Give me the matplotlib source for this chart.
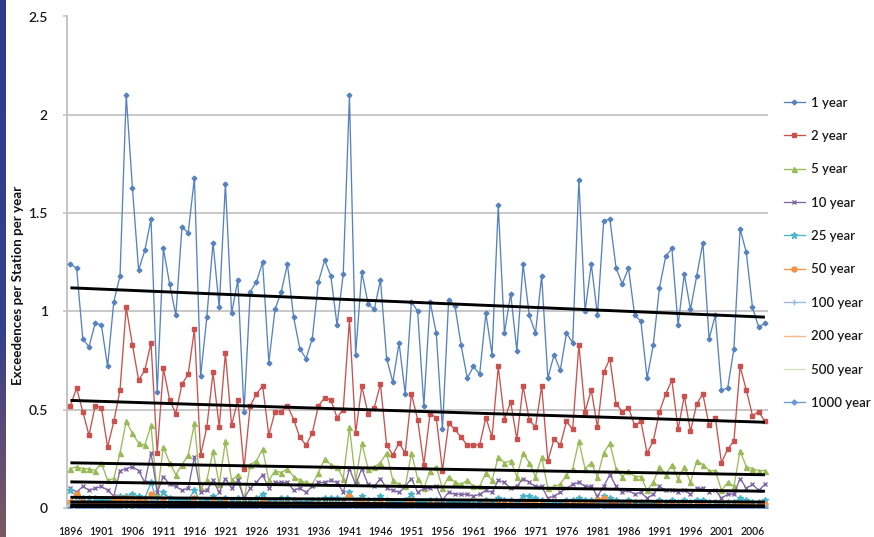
import numpy as np
import matplotlib
matplotlib.use("Agg")
import matplotlib.pyplot as plt
from matplotlib.colors import LinearSegmentedColormap

plt.rcParams['font.family'] = ['Lato', 'DejaVu Sans']

years = list(range(1896, 2009))

one_year = [
    1.24, 1.22, 0.86, 0.82, 0.94, 0.93, 0.72, 1.05, 1.18, 2.10,
    1.63, 1.21, 1.31, 1.47, 0.59, 1.32, 1.14, 0.98, 1.43, 1.40,
    1.68, 0.67, 0.97, 1.35, 1.02, 1.65, 0.99, 1.16, 0.49, 1.10,
    1.15, 1.25, 0.74, 1.01, 1.10, 1.24, 0.97, 0.81, 0.76, 0.86,
    1.15, 1.26, 1.18, 0.93, 1.19, 2.10, 0.78, 1.20, 1.04, 1.01,
    1.16, 0.76, 0.64, 0.84, 0.58, 1.05, 1.00, 0.52, 1.05, 0.89,
    0.40, 1.06, 1.03, 0.83, 0.66, 0.72, 0.68, 0.99, 0.78, 1.54,
    0.89, 1.09, 0.80, 1.24, 0.98, 0.89, 1.18, 0.66, 0.78, 0.70,
    0.89, 0.84, 1.67, 1.00, 1.24, 0.98, 1.46, 1.47, 1.22, 1.14,
    1.22, 0.98, 0.95, 0.66, 0.83, 1.12, 1.28, 1.32, 0.93, 1.19,
    1.01, 1.18, 1.35, 0.86, 0.98, 0.60, 0.61, 0.81, 1.42, 1.30,
    1.02, 0.92, 0.94,
]

two_year = [
    0.52, 0.61, 0.49, 0.37, 0.52, 0.51, 0.31, 0.44, 0.60, 1.02,
    0.83, 0.65, 0.70, 0.84, 0.28, 0.71, 0.55, 0.48, 0.63, 0.68,
    0.91, 0.27, 0.41, 0.69, 0.41, 0.79, 0.42, 0.55, 0.20, 0.52,
    0.58, 0.62, 0.37, 0.49, 0.49, 0.52, 0.45, 0.36, 0.32, 0.38,
    0.52, 0.56, 0.55, 0.46, 0.50, 0.96, 0.38, 0.62, 0.48, 0.51,
    0.63, 0.32, 0.27, 0.33, 0.28, 0.58, 0.45, 0.22, 0.48, 0.46,
    0.19, 0.43, 0.40, 0.36, 0.32, 0.32, 0.32, 0.46, 0.36, 0.72,
    0.45, 0.54, 0.35, 0.62, 0.45, 0.41, 0.62, 0.24, 0.35, 0.32,
    0.44, 0.40, 0.83, 0.49, 0.60, 0.41, 0.69, 0.76, 0.53, 0.49,
    0.51, 0.42, 0.44, 0.28, 0.34, 0.49, 0.58, 0.65, 0.40, 0.57,
    0.39, 0.53, 0.58, 0.42, 0.46, 0.23, 0.30, 0.34, 0.72, 0.60,
    0.47, 0.49, 0.44,
]

five_year = [
    0.20, 0.21, 0.20, 0.20, 0.19, 0.23, 0.14, 0.15, 0.28, 0.44,
    0.38, 0.33, 0.32, 0.42, 0.07, 0.31, 0.23, 0.17, 0.22, 0.27,
    0.43, 0.10, 0.14, 0.29, 0.12, 0.34, 0.14, 0.17, 0.04, 0.22,
    0.24, 0.30, 0.14, 0.19, 0.18, 0.20, 0.16, 0.14, 0.13, 0.12,
    0.18, 0.25, 0.22, 0.21, 0.15, 0.41, 0.14, 0.33, 0.20, 0.21,
    0.23, 0.28, 0.14, 0.12, 0.11, 0.28, 0.15, 0.10, 0.19, 0.21,
    0.10, 0.16, 0.13, 0.12, 0.14, 0.11, 0.11, 0.18, 0.14, 0.26,
    0.23, 0.24, 0.16, 0.28, 0.23, 0.16, 0.26, 0.10, 0.11, 0.12,
    0.17, 0.20, 0.34, 0.20, 0.23, 0.16, 0.28, 0.33, 0.20, 0.16,
    0.19, 0.16, 0.16, 0.09, 0.13, 0.21, 0.17, 0.22, 0.15, 0.21,
    0.13, 0.24, 0.22, 0.19, 0.19, 0.09, 0.13, 0.11, 0.29, 0.21,
    0.20, 0.19, 0.19,
]

ten_year = [
    0.10, 0.08, 0.11, 0.09, 0.10, 0.11, 0.09, 0.06, 0.19, 0.20,
    0.21, 0.19, 0.13, 0.28, 0.08, 0.16, 0.12, 0.11, 0.09, 0.10,
    0.26, 0.08, 0.09, 0.14, 0.08, 0.15, 0.10, 0.14, 0.05, 0.10,
    0.13, 0.17, 0.10, 0.13, 0.13, 0.13, 0.09, 0.10, 0.08, 0.11,
    0.13, 0.13, 0.14, 0.13, 0.08, 0.20, 0.12, 0.20, 0.12, 0.11,
    0.15, 0.10, 0.09, 0.08, 0.11, 0.15, 0.08, 0.10, 0.10, 0.11,
    0.04, 0.08, 0.07, 0.07, 0.07, 0.06, 0.07, 0.09, 0.08, 0.14,
    0.13, 0.10, 0.11, 0.15, 0.13, 0.11, 0.11, 0.05, 0.06, 0.08,
    0.10, 0.12, 0.13, 0.11, 0.11, 0.06, 0.11, 0.17, 0.11, 0.08,
    0.09, 0.07, 0.08, 0.05, 0.07, 0.11, 0.09, 0.09, 0.08, 0.09,
    0.07, 0.10, 0.10, 0.08, 0.09, 0.05, 0.07, 0.07, 0.15, 0.10,
    0.12, 0.09, 0.12,
]

twentyfive_year = [
    0.09, 0.06, 0.05, 0.05, 0.05, 0.04, 0.04, 0.03, 0.06, 0.06,
    0.07, 0.06, 0.05, 0.13, 0.03, 0.08, 0.05, 0.04, 0.04, 0.04,
    0.09, 0.03, 0.04, 0.06, 0.03, 0.05, 0.04, 0.05, 0.01, 0.04,
    0.05, 0.07, 0.04, 0.04, 0.05, 0.05, 0.04, 0.03, 0.03, 0.04,
    0.04, 0.05, 0.05, 0.05, 0.04, 0.08, 0.04, 0.06, 0.04, 0.04,
    0.06, 0.04, 0.03, 0.03, 0.04, 0.07, 0.03, 0.03, 0.04, 0.04,
    0.02, 0.03, 0.03, 0.03, 0.03, 0.02, 0.03, 0.04, 0.03, 0.05,
    0.04, 0.04, 0.03, 0.06, 0.06, 0.05, 0.04, 0.02, 0.03, 0.03,
    0.04, 0.04, 0.05, 0.04, 0.04, 0.03, 0.06, 0.05, 0.04, 0.03,
    0.04, 0.03, 0.03, 0.02, 0.02, 0.04, 0.03, 0.04, 0.03, 0.04,
    0.03, 0.04, 0.04, 0.03, 0.03, 0.02, 0.03, 0.03, 0.05, 0.04,
    0.03, 0.03, 0.04,
]

fifty_year = [
    0.03, 0.07, 0.03, 0.02, 0.02, 0.02, 0.02, 0.05, 0.05, 0.05,
    0.05, 0.04, 0.03, 0.07, 0.01, 0.04, 0.02, 0.02, 0.02, 0.02,
    0.05, 0.01, 0.02, 0.03, 0.02, 0.03, 0.02, 0.02, 0.00, 0.02,
    0.02, 0.04, 0.02, 0.02, 0.02, 0.02, 0.02, 0.01, 0.01, 0.02,
    0.02, 0.02, 0.02, 0.02, 0.02, 0.06, 0.02, 0.04, 0.02, 0.02,
    0.03, 0.02, 0.01, 0.01, 0.02, 0.04, 0.01, 0.01, 0.02, 0.02,
    0.01, 0.01, 0.01, 0.01, 0.01, 0.01, 0.01, 0.02, 0.01, 0.02,
    0.02, 0.02, 0.01, 0.03, 0.03, 0.02, 0.02, 0.01, 0.01, 0.01,
    0.02, 0.02, 0.02, 0.02, 0.02, 0.04, 0.05, 0.02, 0.02, 0.01,
    0.02, 0.01, 0.01, 0.01, 0.01, 0.02, 0.01, 0.02, 0.01, 0.02,
    0.01, 0.02, 0.02, 0.01, 0.01, 0.01, 0.01, 0.01, 0.02, 0.02,
    0.01, 0.01, 0.02,
]

hundred_year = [
    0.02, 0.03, 0.01, 0.01, 0.01, 0.01, 0.01, 0.02, 0.02, 0.03,
    0.03, 0.02, 0.01, 0.04, 0.00, 0.02, 0.01, 0.01, 0.01, 0.01,
    0.03, 0.00, 0.01, 0.02, 0.01, 0.02, 0.01, 0.01, 0.00, 0.01,
    0.01, 0.02, 0.01, 0.01, 0.01, 0.01, 0.01, 0.00, 0.00, 0.01,
    0.01, 0.01, 0.01, 0.01, 0.01, 0.03, 0.01, 0.02, 0.01, 0.01,
    0.02, 0.01, 0.00, 0.00, 0.01, 0.02, 0.00, 0.00, 0.01, 0.01,
    0.00, 0.00, 0.00, 0.00, 0.00, 0.00, 0.00, 0.01, 0.00, 0.01,
    0.01, 0.01, 0.00, 0.02, 0.02, 0.01, 0.01, 0.00, 0.00, 0.00,
    0.01, 0.01, 0.01, 0.01, 0.01, 0.02, 0.03, 0.01, 0.01, 0.00,
    0.01, 0.00, 0.00, 0.00, 0.00, 0.01, 0.00, 0.01, 0.00, 0.01,
    0.00, 0.01, 0.01, 0.00, 0.00, 0.00, 0.00, 0.00, 0.01, 0.01,
    0.00, 0.00, 0.01,
]

two_hundred_year = [
    0.01, 0.02, 0.01, 0.00, 0.00, 0.00, 0.00, 0.01, 0.01, 0.02,
    0.02, 0.01, 0.01, 0.02, 0.00, 0.01, 0.00, 0.00, 0.00, 0.00,
    0.02, 0.00, 0.00, 0.01, 0.00, 0.01, 0.00, 0.00, 0.00, 0.00,
    0.00, 0.01, 0.00, 0.00, 0.00, 0.00, 0.00, 0.00, 0.00, 0.00,
    0.00, 0.00, 0.00, 0.00, 0.00, 0.02, 0.00, 0.01, 0.00, 0.00,
    0.01, 0.00, 0.00, 0.00, 0.00, 0.01, 0.00, 0.00, 0.00, 0.00,
    0.00, 0.00, 0.00, 0.00, 0.00, 0.00, 0.00, 0.00, 0.00, 0.00,
    0.00, 0.00, 0.00, 0.01, 0.01, 0.00, 0.00, 0.00, 0.00, 0.00,
    0.00, 0.00, 0.00, 0.00, 0.00, 0.01, 0.02, 0.00, 0.00, 0.00,
    0.00, 0.00, 0.00, 0.00, 0.00, 0.00, 0.00, 0.00, 0.00, 0.00,
    0.00, 0.00, 0.00, 0.00, 0.00, 0.00, 0.00, 0.00, 0.00, 0.00,
    0.00, 0.00, 0.00,
]

five_hundred_year = [
    0.00, 0.01, 0.00, 0.00, 0.00, 0.00, 0.00, 0.00, 0.00, 0.01,
    0.01, 0.00, 0.00, 0.01, 0.00, 0.00, 0.00, 0.00, 0.00, 0.00,
    0.01, 0.00, 0.00, 0.00, 0.00, 0.00, 0.00, 0.00, 0.00, 0.00,
    0.00, 0.00, 0.00, 0.00, 0.00, 0.00, 0.00, 0.00, 0.00, 0.00,
    0.00, 0.00, 0.00, 0.00, 0.00, 0.01, 0.00, 0.00, 0.00, 0.00,
    0.00, 0.00, 0.00, 0.00, 0.00, 0.00, 0.00, 0.00, 0.00, 0.00,
    0.00, 0.00, 0.00, 0.00, 0.00, 0.00, 0.00, 0.00, 0.00, 0.00,
    0.00, 0.00, 0.00, 0.00, 0.00, 0.00, 0.00, 0.00, 0.00, 0.00,
    0.00, 0.00, 0.00, 0.00, 0.00, 0.00, 0.01, 0.00, 0.00, 0.00,
    0.00, 0.00, 0.00, 0.00, 0.00, 0.00, 0.00, 0.00, 0.00, 0.00,
    0.00, 0.00, 0.00, 0.00, 0.00, 0.00, 0.00, 0.00, 0.00, 0.00,
    0.00, 0.00, 0.00,
]

thousand_year = [
    0.00, 0.00, 0.00, 0.00, 0.00, 0.00, 0.00, 0.00, 0.00, 0.01,
    0.00, 0.00, 0.00, 0.00, 0.00, 0.00, 0.00, 0.00, 0.00, 0.00,
    0.00, 0.00, 0.00, 0.00, 0.00, 0.00, 0.00, 0.00, 0.00, 0.00,
    0.00, 0.00, 0.00, 0.00, 0.00, 0.00, 0.00, 0.00, 0.00, 0.00,
    0.00, 0.00, 0.00, 0.00, 0.00, 0.00, 0.00, 0.00, 0.00, 0.00,
    0.00, 0.00, 0.00, 0.00, 0.00, 0.00, 0.00, 0.00, 0.00, 0.00,
    0.00, 0.00, 0.00, 0.00, 0.00, 0.00, 0.00, 0.00, 0.00, 0.00,
    0.00, 0.00, 0.00, 0.00, 0.00, 0.00, 0.00, 0.00, 0.00, 0.00,
    0.00, 0.00, 0.00, 0.00, 0.00, 0.00, 0.00, 0.00, 0.00, 0.00,
    0.00, 0.00, 0.00, 0.00, 0.00, 0.00, 0.00, 0.00, 0.00, 0.00,
    0.00, 0.00, 0.00, 0.00, 0.00, 0.00, 0.00, 0.00, 0.00, 0.00,
    0.00, 0.00, 0.00,
]

series_labels = ["1 year", "2 year", "5 year", "10 year", "25 year",
                 "50 year", "100 year", "200 year", "500 year", "1000 year"]
series_values = [one_year, two_year, five_year, ten_year, twentyfive_year,
                 fifty_year, hundred_year, two_hundred_year,
                 five_hundred_year, thousand_year]

colors = ["#5683C0", "#C9514E", "#9BBB59", "#8066A4", "#4BB4C8",
          "#F69240", "#9CBBE0", "#F9B98A", "#D5E0BC", "#6E9AD4"]
markers = ["D", "s", "^", "x", "*", "o", "+", "_", None, "D"]
msizes = [2.4, 3.4, 3.6, 3.4, 4.5, 3.6, 4.0, 4.0, 0, 2.6]

W, H = 874, 537
fig = plt.figure(figsize=(W / 100, H / 100), dpi=100)
fig.patch.set_facecolor("white")

# slide edge strip on the left
strip = fig.add_axes([0, 0, 6 / W, 1])
cmap = LinearSegmentedColormap.from_list(
    "edge", [(0.0, "#2D3A8E"), (0.62, "#36408C"), (0.80, "#5A4A78"), (1.0, "#7A5A62")])
strip.imshow(np.linspace(0, 1, 256)[:, None], aspect="auto", cmap=cmap,
             extent=[0, 1, 0, 1], origin="upper")
strip.set_axis_off()

x0, x1 = 67.3, 768.0
y_top, y_bot = 16.5, 508.0
ax = fig.add_axes([x0 / W, 1 - y_bot / H, (x1 - x0) / W, (y_bot - y_top) / H])

idx = np.arange(len(years))
for vals, lab, col, mk, ms in zip(series_values, series_labels, colors, markers, msizes):
    ax.plot(idx, vals, color=col, lw=0.95, marker=mk, ms=ms, mfc=col, mec=col,
            mew=1.0, label=lab, zorder=3)

# linear trend lines
for vals in series_values:
    coef = np.polyfit(idx, np.asarray(vals, dtype=float), 1)
    ends = idx[[0, -1]]
    ax.plot(ends, np.polyval(coef, ends), color="black", lw=2.1, zorder=5,
            solid_capstyle="butt")

ax.set_xlim(-0.5, len(years) - 0.5)
ax.set_ylim(0, 2.5)
ax.set_yticks([0, 0.5, 1, 1.5, 2, 2.5])
ax.set_yticklabels(["0", "0.5", "1", "1.5", "2", "2.5"], fontsize=10,
                   fontweight="semibold", color="#1A1A1A")
tick_pos = idx[::5]
ax.set_xticks(tick_pos)
ax.set_xticklabels([str(years[i]) for i in tick_pos], fontsize=7.6,
                   fontweight="semibold", color="#1A1A1A")
ax.tick_params(axis="x", length=0, pad=13)
ax.tick_params(axis="y", length=3, width=1.2, color="#C4C4C4", pad=11)
ax.grid(axis="y", color="#C8C8C8", lw=1.4, zorder=0)
ax.set_axisbelow(True)
for side in ["top", "right", "bottom"]:
    ax.spines[side].set_visible(False)
ax.spines["left"].set_color("#C4C4C4")
ax.spines["left"].set_linewidth(1.4)

fig.text(18 / W, 1 - 285 / H, "Exceedences per Station per year", rotation=90,
         ha="center", va="center", fontsize=9.6, fontweight="bold", color="#111111")

fig.legend(*ax.get_legend_handles_labels(), loc="upper left",
           bbox_to_anchor=(777 / W, 1 - 90 / H), frameon=False, borderpad=0,
           labelspacing=1.62, handlelength=1.6, handletextpad=0.5,
           labelcolor="#1A1A1A", prop={"weight": "semibold", "size": 9.5})

fig.savefig("out.png", dpi=100, facecolor="white")
